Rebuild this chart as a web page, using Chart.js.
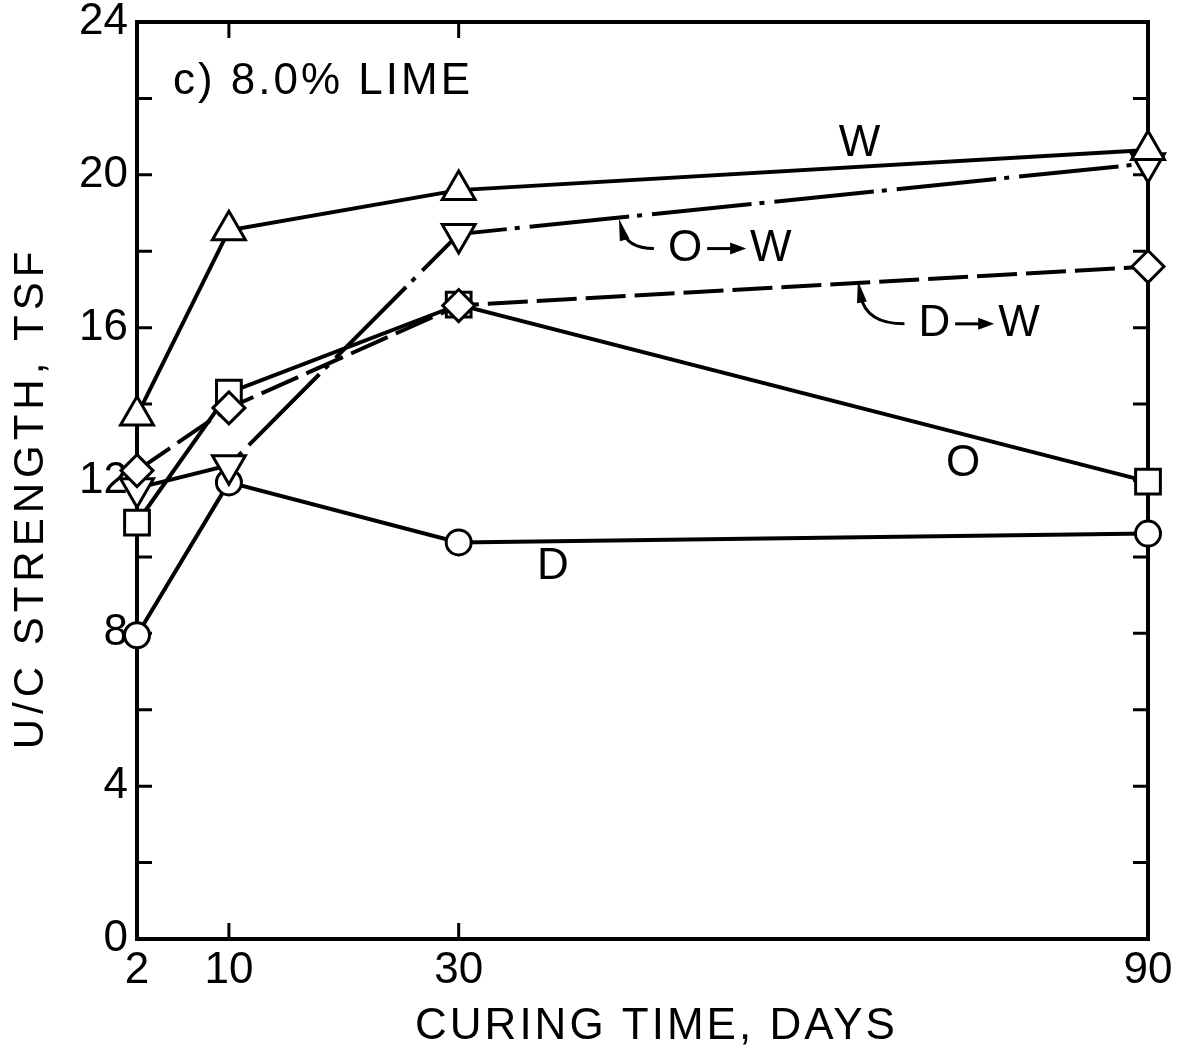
<!DOCTYPE html>
<html>
<head>
<meta charset="utf-8">
<title>U/C strength vs curing time - 8.0% lime</title>
<script src="https://cdn.jsdelivr.net/npm/chart.js@4.4.1/dist/chart.umd.min.js"></script>
<style>
  html, body { margin: 0; padding: 0; background: #fff; }
  #chart { display: block; }
</style>
</head>
<body>
<canvas id="chart" width="1178" height="1057"></canvas>
<script>
'use strict'

// curing time, days
const days = [2, 10, 30, 90];

// U/C strength, tsf
const wStrength = [13.7, 18.55, 19.6, 20.65];      // W
const dwStrength = [12.26, 13.9, 16.58, 17.6];     // D -> W
const owStrength = [11.8, 12.4, 18.45, 20.3];      // O -> W
const oStrength = [10.9, 14.3, 16.6, 11.97];       // O
const dStrength = [7.95, 11.95, 10.38, 10.61];     // D

// axis ticks
const xTicks = [2, 10, 30, 90];
const yTicks = [0, 2, 4, 6, 8, 10, 12, 14, 16, 18, 20, 22, 24];
const yLabelled = [0, 4, 8, 12, 16, 20, 24];

const FONT = '"Liberation Sans", Arial, sans-serif';
const INK = '#000';

// labels written on the plot (anchored in data units)
const notes = [
    { text: 'W', x: 64.9, y: 20.8 },
    { text: 'O', x: 73.9, y: 12.44 },
    { text: 'D', x: 38.2, y: 9.73 },
];
const arrowNotes = [
    { from: 'O', to: 'W', x: 49.7, y: 18.07, tipX: 43.95, tipY: 18.85 },
    { from: 'D', to: 'W', x: 71.4, y: 16.1, tipX: 64.75, tipY: 17.23 },
];

function series(label, values, style, extra) {
    return Object.assign({
        label: label,
        data: days.map((d, i) => ({ x: d, y: values[i] })),
        borderColor: INK,
        borderWidth: 4,
        pointStyle: style,
        pointBackgroundColor: '#fff',
        pointBorderColor: INK,
        pointBorderWidth: 3,
        tension: 0,
        clip: false,
    }, extra);
}

function arrowHead(ctx, fromX, fromY, tipX, tipY, len, half) {
    const a = Math.atan2(tipY - fromY, tipX - fromX);
    ctx.beginPath();
    ctx.moveTo(tipX, tipY);
    ctx.lineTo(tipX - len * Math.cos(a) + half * Math.sin(a), tipY - len * Math.sin(a) - half * Math.cos(a));
    ctx.lineTo(tipX - len * Math.cos(a) - half * Math.sin(a), tipY - len * Math.sin(a) + half * Math.cos(a));
    ctx.closePath();
    ctx.fill();
}

// frame with inward ticks on all four sides
const framePlugin = {
    id: 'frame',
    beforeDatasetsDraw(chart) {
        const { ctx, chartArea: a, scales } = chart;
        ctx.save();
        ctx.strokeStyle = INK;
        ctx.lineCap = 'butt';
        ctx.lineWidth = 3;
        ctx.beginPath();
        yTicks.slice(1, -1).forEach(v => {
            const py = scales.y.getPixelForValue(v);
            ctx.moveTo(a.left, py); ctx.lineTo(a.left + 15, py);
            ctx.moveTo(a.right, py); ctx.lineTo(a.right - 15, py);
        });
        xTicks.slice(1, -1).forEach(v => {
            const px = scales.x.getPixelForValue(v);
            ctx.moveTo(px, a.top); ctx.lineTo(px, a.top + 16);
            ctx.moveTo(px, a.bottom); ctx.lineTo(px, a.bottom - 16);
        });
        ctx.stroke();
        ctx.lineWidth = 4;
        ctx.lineJoin = 'miter';
        ctx.strokeRect(a.left, a.top, a.right - a.left, a.bottom - a.top);
        ctx.restore();
    },
    afterDraw(chart) {
        const { ctx, chartArea: a, scales } = chart;
        ctx.save();
        ctx.fillStyle = INK;
        ctx.strokeStyle = INK;

        // axis titles
        ctx.font = '44px ' + FONT;
        ctx.textAlign = 'center';
        ctx.textBaseline = 'middle';
        ctx.letterSpacing = '3px';
        ctx.fillText('CURING TIME, DAYS', (a.left + a.right) / 2 + 14, chart.height - 30);

        ctx.save();
        ctx.font = '42px ' + FONT;
        ctx.letterSpacing = '5px';
        ctx.translate(31, 498);
        ctx.rotate(-Math.PI / 2);
        ctx.fillText('U/C STRENGTH, TSF', 0, 0);
        ctx.restore();

        // panel label
        ctx.font = '44px ' + FONT;
        ctx.letterSpacing = '3px';
        ctx.textAlign = 'left';
        ctx.fillText('c) 8.0% LIME', scales.x.getPixelForValue(5.13), scales.y.getPixelForValue(22.43));

        // curve labels
        ctx.letterSpacing = '0px';
        ctx.textAlign = 'center';
        notes.forEach(n => {
            ctx.fillText(n.text, scales.x.getPixelForValue(n.x), scales.y.getPixelForValue(n.y));
        });

        arrowNotes.forEach(n => {
            const cx = scales.x.getPixelForValue(n.x);
            const cy = scales.y.getPixelForValue(n.y);
            const half = ctx.measureText(n.from).width / 2;
            ctx.textAlign = 'center';
            ctx.fillText(n.from, cx, cy);

            // little arrow between the letters
            const ax0 = cx + half + 5;
            const ax1 = ax0 + 39;
            ctx.lineWidth = 3;
            ctx.beginPath();
            ctx.moveTo(ax0, cy); ctx.lineTo(ax1 - 12, cy);
            ctx.stroke();
            arrowHead(ctx, ax0, cy, ax1, cy, 16, 6);
            ctx.textAlign = 'left';
            ctx.fillText(n.to, ax1 + 4, cy);

            // curved leader to the line
            const sx = cx - half - 14;
            const tx = scales.x.getPixelForValue(n.tipX);
            const ty = scales.y.getPixelForValue(n.tipY);
            const kx = tx + 8;
            const ky = cy;
            ctx.lineWidth = 3;
            ctx.beginPath();
            ctx.moveTo(sx, cy);
            ctx.quadraticCurveTo(kx, ky, tx + (kx - tx) * 0.35, ty + (ky - ty) * 0.35);
            ctx.stroke();
            arrowHead(ctx, kx, ky, tx, ty, 22, 5);
        });
        ctx.restore();
    }
};

const ctx = document.getElementById('chart').getContext('2d');
const chart = new Chart(ctx, {
    type: 'line',
    data: {
        datasets: [
            series('W', wStrength, 'triangle', { pointRadius: 19 }),
            series('D-W', dwStrength, 'rectRot', { pointRadius: 16, borderDash: [40, 9] }),
            series('O-W', owStrength, 'triangle', { pointRadius: 19, pointRotation: 180, borderDash: [100, 8, 5, 10] }),
            series('O', oStrength, 'rect', { pointRadius: 17.5 }),
            series('D', dStrength, 'circle', { pointRadius: 12.5 }),
        ]
    },
    options: {
        responsive: false,
        animation: false,
        events: [],
        layout: { padding: { left: 0, top: 21, right: 30, bottom: 0 } },
        plugins: {
            legend: { display: false },
            tooltip: { enabled: false },
        },
        scales: {
            x: {
                type: 'linear',
                min: 2,
                max: 90,
                afterBuildTicks: scale => { scale.ticks = xTicks.map(v => ({ value: v })); },
                afterFit: scale => {
                    scale.height = 118;
                    scale.paddingLeft = 0;
                    scale.paddingRight = 0;
                },
                grid: { display: false, drawTicks: false },
                border: { display: false },
                ticks: {
                    color: INK,
                    padding: 5,
                    maxRotation: 0,
                    font: { family: FONT, size: 44 },
                },
            },
            y: {
                type: 'linear',
                min: 0,
                max: 24,
                afterBuildTicks: scale => { scale.ticks = yTicks.map(v => ({ value: v })); },
                afterFit: scale => {
                    scale.width = 137;
                    scale.paddingTop = 0;
                    scale.paddingBottom = 0;
                },
                grid: { display: false, drawTicks: false },
                border: { display: false },
                ticks: {
                    color: INK,
                    padding: 9,
                    font: { family: FONT, size: 44 },
                    callback: v => yLabelled.includes(v) ? String(v) : '',
                },
            },
        },
    },
    plugins: [framePlugin],
});
</script>
</body>
</html>
